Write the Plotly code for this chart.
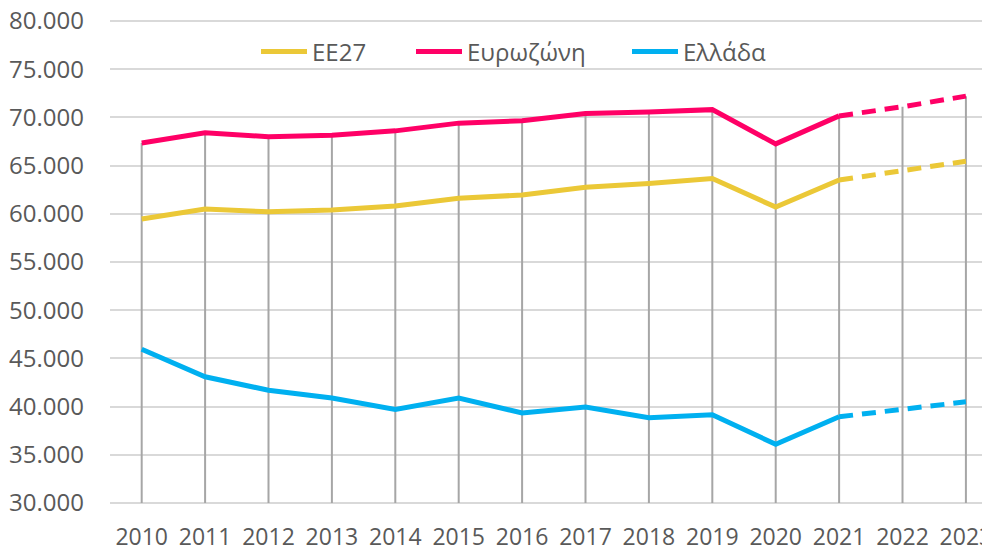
import plotly.graph_objects as go

years = list(range(2010, 2024))
ee27 = [59450, 60500, 60200, 60400, 60800, 61600, 61950, 62750, 63150, 63650, 60700, 63500, 64500, 65450]
eurozone = [67350, 68400, 68000, 68150, 68600, 69400, 69650, 70400, 70550, 70800, 67250, 70150, 71100, 72200]
greece = [45950, 43100, 41700, 40900, 39700, 40900, 39350, 39950, 38850, 39150, 36100, 38950, 39700, 40500]
names = ["ΕΕ27", "Ευρωζώνη", "Ελλάδα"]
colors = ["#EBC837", "#FF0066", "#00B0F0"]
last_actual = 2021
y_min, y_max = 30000, 80000

fig = go.Figure()

# drop lines from highest series down to axis
dx, dy = [], []
for i, yr in enumerate(years):
    top = max(ee27[i], eurozone[i], greece[i])
    dx += [yr, yr, None]
    dy += [y_min, top, None]
fig.add_trace(go.Scatter(x=dx, y=dy, mode="lines", line=dict(color="#A6A6A6", width=2),
                         showlegend=False, hoverinfo="skip"))

legends = ["legend", "legend2", "legend3"]
k = years.index(last_actual)
for name, vals, col, lg in zip(names, [ee27, eurozone, greece], colors, legends):
    fig.add_trace(go.Scatter(x=years[:k + 1], y=vals[:k + 1], mode="lines", name=name,
                             line=dict(color=col, width=5), legend=lg))
    fig.add_trace(go.Scatter(x=years[k:], y=vals[k:], mode="lines", name=name,
                             line=dict(color=col, width=5, dash="14px,9px"),
                             showlegend=False))

tickvals = list(range(y_min, y_max + 1, 5000))
ticktext = [f"{v // 1000}.000" for v in tickvals]

font = "Open Sans"
# page body has an 8px offset; plot area placed accordingly
L, T, PW, PH = 102, 11, 880, 486
def lx(px):
    return (px - 8 - L) / PW
leg_common = dict(orientation="h", xref="paper", yref="paper", yanchor="middle",
                  xanchor="left", y=1 - (52 - 8 - T) / PH, bgcolor="rgba(0,0,0,0)",
                  font=dict(family=font, size=24, color="#595959"), itemwidth=46,
                  tracegroupgap=0)
fig.update_layout(
    width=990, height=545,
    margin=dict(l=L, r=990 - L - PW, t=T, b=545 - T - PH, autoexpand=False),
    plot_bgcolor="white", paper_bgcolor="white",
    font=dict(family=font, color="#595959"),
    legend=dict(leg_common, x=lx(262 - 6)),
    legend2=dict(leg_common, x=lx(417 - 6)),
    legend3=dict(leg_common, x=lx(633 - 6)),
    xaxis=dict(range=[2009.5, 2023.38], tickvals=years, ticktext=[str(y) for y in years],
               showgrid=False, showline=False, zeroline=False, ticks="",
               tickfont=dict(size=23, color="#595959"), ticklabelstandoff=16,
               ticklabeloverflow="allow", automargin=False),
    yaxis=dict(range=[29800, 80200], tickvals=tickvals, ticktext=ticktext,
               showgrid=True, gridcolor="#D9D9D9", gridwidth=2, zeroline=False,
               showline=False, ticks="", tickfont=dict(size=24, color="#595959"),
               ticklabelstandoff=25, ticklabeloverflow="allow", automargin=False),
)
fig.write_html("out.html")
